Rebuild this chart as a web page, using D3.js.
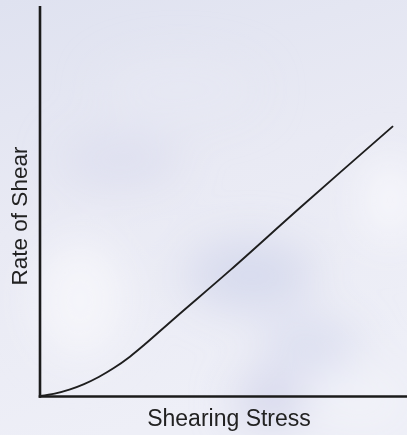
<!DOCTYPE html>
<html>
<head>
<meta charset="utf-8">
<script src="https://cdn.jsdelivr.net/npm/d3@7/dist/d3.min.js"></script>
<style>
  html, body { margin: 0; padding: 0; background: #e9eaf4; }
  svg { display: block; }
</style>
</head>
<body>
<script>
// Flow curve: rate of shear against shearing stress (arbitrary units)
const shearingStress = [0, 4, 8, 12, 16, 20, 24.5, 28.5, 37, 52, 71, 96.2];
const rateOfShear    = [0, 0.61, 1.63, 3.05, 4.88, 7.1, 10.09, 13.18, 20.2, 32.4, 48.4, 69.2];
const xTitle = "Shearing Stress";
const yTitle = "Rate of Shear";

const width = 407, height = 435;
const margin = { top: 6, right: 0, bottom: 38, left: 40 };

const svg = d3.select("body").append("svg")
  .attr("width", width)
  .attr("height", height);

const defs = svg.append("defs");

// soft backdrop
const bg = defs.append("linearGradient").attr("id", "bgGrad")
  .attr("x1", 0).attr("y1", 0).attr("x2", 0.3).attr("y2", 1);
bg.append("stop").attr("offset", 0).attr("stop-color", "#dfe2f0");
bg.append("stop").attr("offset", 0.5).attr("stop-color", "#e9eaf4");
bg.append("stop").attr("offset", 1).attr("stop-color", "#eeeff7");

defs.append("filter").attr("id", "haze")
  .attr("x", "-50%").attr("y", "-50%").attr("width", "200%").attr("height", "200%")
  .append("feGaussianBlur").attr("stdDeviation", 22);

svg.append("rect").attr("width", width).attr("height", height).attr("fill", "url(#bgGrad)");

const hazeLayer = svg.append("g").attr("filter", "url(#haze)");
const blobs = [
  { cx: 120, cy: 160, rx: 60, ry: 25, c: "#dadcee", o: 0.7 },
  { cx: 250, cy: 275, rx: 65, ry: 35, c: "#d4d7ec", o: 0.85 },
  { cx: 310, cy: 345, rx: 50, ry: 25, c: "#d6d9ee", o: 0.8 },
  { cx: 270, cy: 400, rx: 35, ry: 25, c: "#d0d3ea", o: 0.9 },
  { cx: 80,  cy: 300, rx: 45, ry: 60, c: "#f6f6fb", o: 0.9 },
  { cx: 390, cy: 200, rx: 30, ry: 45, c: "#f7f7fc", o: 0.9 },
  { cx: 180, cy: 90,  rx: 80, ry: 30, c: "#e7e8f4", o: 0.7 },
  { cx: 360, cy: 400, rx: 50, ry: 30, c: "#f1f2f9", o: 0.8 }
];
hazeLayer.selectAll("ellipse").data(blobs).join("ellipse")
  .attr("cx", d => d.cx).attr("cy", d => d.cy)
  .attr("rx", d => d.rx).attr("ry", d => d.ry)
  .attr("fill", d => d.c).attr("opacity", d => d.o);

const x = d3.scaleLinear().domain([0, 100]).range([margin.left, width - margin.right]);
const y = d3.scaleLinear().domain([0, 100]).range([height - margin.bottom - 1, margin.top]);

// axes drawn as plain lines, no ticks
const xAxis = d3.axisBottom(x).tickValues([]).tickSizeOuter(0);
const yAxis = d3.axisLeft(y).tickValues([]).tickSizeOuter(0);

const gx = svg.append("g")
  .attr("transform", `translate(0,${y(0) + 0.5})`)
  .call(xAxis);
gx.select(".domain").attr("stroke", "#1b1b1b").attr("stroke-width", 2.6)
  .attr("d", `M${x(0) - 1.3},0H${x(100)}`);

const gy = svg.append("g")
  .attr("transform", `translate(${x(0)},0)`)
  .call(yAxis);
gy.select(".domain").attr("stroke", "#1b1b1b").attr("stroke-width", 2.6)
  .attr("d", `M0,${y(0) + 1.8}V${y(100)}`);

const points = shearingStress.map((s, i) => [s, rateOfShear[i]]);
const line = d3.line()
  .x(d => x(d[0]))
  .y(d => y(d[1]))
  .curve(d3.curveCatmullRom.alpha(0.5));

svg.append("path")
  .datum(points)
  .attr("d", line)
  .attr("fill", "none")
  .attr("stroke", "#1e1e1e")
  .attr("stroke-width", 1.9)
  .attr("stroke-linejoin", "round");

svg.append("text")
  .attr("x", 229)
  .attr("y", 426)
  .attr("text-anchor", "middle")
  .attr("font-family", "Liberation Sans, Arial, Helvetica, sans-serif")
  .attr("font-size", 23)
  .attr("fill", "#222")
  .text(xTitle);

svg.append("text")
  .attr("transform", "translate(27,216) rotate(-90)")
  .attr("text-anchor", "middle")
  .attr("font-family", "Liberation Sans, Arial, Helvetica, sans-serif")
  .attr("font-size", 22.5)
  .attr("fill", "#222")
  .text(yTitle);
</script>
</body>
</html>
